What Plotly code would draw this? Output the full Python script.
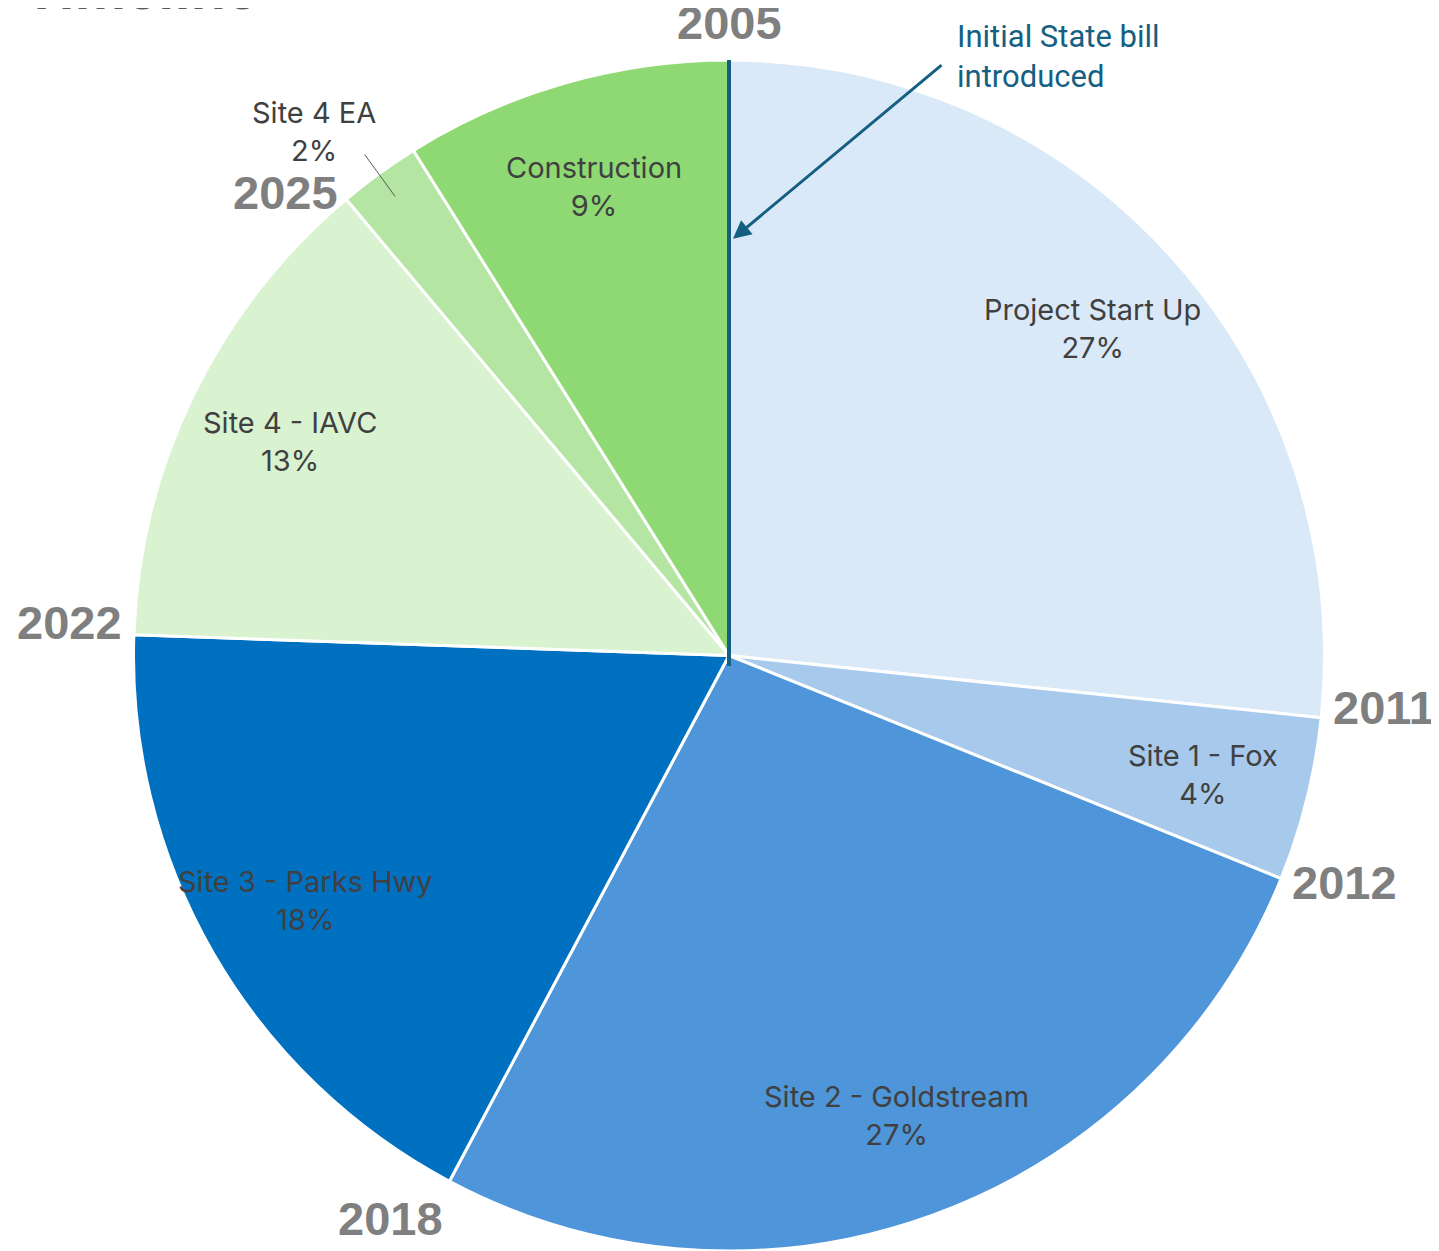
import math
import plotly.graph_objects as go

# ---- data ----
phases = ["Project Start Up", "Site 1 - Fox", "Site 2 - Goldstream", "Site 3 - Parks Hwy",
          "Site 4 - IAVC", "Site 4 EA", "Construction"]
durations = [6, 1, 6, 4, 3, 0.5, 2]          # years per phase
year_labels = ["2005", "2011", "2012", "2018", "2022", "2025"]  # phase boundaries
colors = ["#DAE9F8", "#A6C9EC", "#4E95D9", "#0070C0", "#D9F2D0", "#B4E5A2", "#8ED973"]
title_text = "Timeline"
callout_text = "Initial State bill<br>introduced"

# ---- geometry (page has an 8px body margin) ----
OFF = 8
W, H = 1439 - OFF, 1251 - OFF
CX, CY, R = 729 - OFF, 656 - OFF, 596
total = sum(durations)


def to_paper(angle_deg, rfrac):
    a = math.radians(angle_deg)
    x = CX + rfrac * R * math.sin(a)
    y = CY - rfrac * R * math.cos(a)
    return x / W, (H - y) / H


cum = [0]
for d in durations:
    cum.append(cum[-1] + d)
bound_angles = [c / total * 360 for c in cum]

fig = go.Figure(go.Pie(
    labels=phases, values=durations, sort=False, direction="clockwise", rotation=0,
    marker=dict(colors=colors, line=dict(color="white", width=3)),
    textinfo="none", hoverinfo="label+percent", showlegend=False,
    domain=dict(x=[(CX - R) / W, (CX + R) / W], y=[max(0, (H - CY - R) / H), (H - CY + R) / H]),
))

annotations = []
shapes = []
label_font = dict(family="Inter, Liberation Sans, sans-serif", size=29, color="#404040")
small_idx = phases.index("Site 4 EA")
for i, (name, d) in enumerate(zip(phases, durations)):
    pct = round(d / total * 100)
    mid = (bound_angles[i] + bound_angles[i + 1]) / 2
    txt = f"{name}<br>{pct}%"
    if i == small_idx:
        lx0, ly0 = to_paper(mid, 0.953)
        lx1, ly1 = to_paper(mid, 1.04)
        shapes.append(dict(type="line", xref="paper", yref="paper", x0=lx0, y0=ly0,
                           x1=lx1, y1=ly1, line=dict(color="#595959", width=1)))
        x, y = to_paper(mid, 0.95)
        annotations.append(dict(x=x, y=y, xref="paper", yref="paper", text=txt,
                                xanchor="center", yanchor="middle", xshift=-82, yshift=66,
                                showarrow=False, font=label_font, align="center"))
    else:
        x, y = to_paper(mid, 0.82)
        annotations.append(dict(x=x, y=y, xref="paper", yref="paper", text=txt,
                                xanchor="center", yanchor="middle",
                                showarrow=False, font=label_font, align="center"))

# year labels at boundaries
for i, yl in enumerate(year_labels):
    ang = bound_angles[i]
    s, c = math.sin(math.radians(ang)), math.cos(math.radians(ang))
    x, y = to_paper(ang, 1.015)
    xa = "left" if s > 0.3 else ("right" if s < -0.3 else "center")
    ya = "bottom" if c > 0.8 else ("top" if c < -0.8 else "middle")
    annotations.append(dict(x=x, y=y, xref="paper", yref="paper", text=f"<b>{yl}</b>",
                            showarrow=False, xanchor=xa, yanchor=ya,
                            yshift=12 if ya == "middle" and abs(s) > 0.99 else 0,
                            font=dict(family="Liberation Sans, Arial, sans-serif", size=47,
                                      color="#7F7F7F")))

# title (cut off at top)
annotations.append(dict(x=(22 - OFF) / W, y=1 - 15 / H, xref="paper", yref="paper",
                        text=f"<b>{title_text}</b>", showarrow=False, xanchor="left",
                        yanchor="bottom",
                        font=dict(family="Liberation Sans, Arial, sans-serif", size=58,
                                  color="#595959")))

# callout
annotations.append(dict(x=(955 - OFF) / W, y=1 - (16 - OFF) / H, xref="paper", yref="paper",
                        text=callout_text, showarrow=False, xanchor="left", yanchor="top",
                        align="left",
                        font=dict(family="Roboto, sans-serif", size=31, color="#156082")))
tx, ty = to_paper(0, 0.70)
annotations.append(dict(x=tx + 4 / W, y=ty, xref="paper", yref="paper", text="",
                        showarrow=True, arrowhead=2, arrowsize=1.2, arrowwidth=3,
                        arrowcolor="#156082", ax=210, ay=-175))

x0, y0 = to_paper(0, 0)
x1, y1 = to_paper(0, 1)
shapes.append(dict(type="line", xref="paper", yref="paper", x0=x0, y0=y0 - 10 / H, x1=x1, y1=y1,
                   line=dict(color="#156082", width=4)))

fig.update_layout(width=W, height=H, margin=dict(l=0, r=0, t=0, b=0),
                  paper_bgcolor="white", plot_bgcolor="white",
                  annotations=annotations, shapes=shapes)

fig.write_html("out.html")
